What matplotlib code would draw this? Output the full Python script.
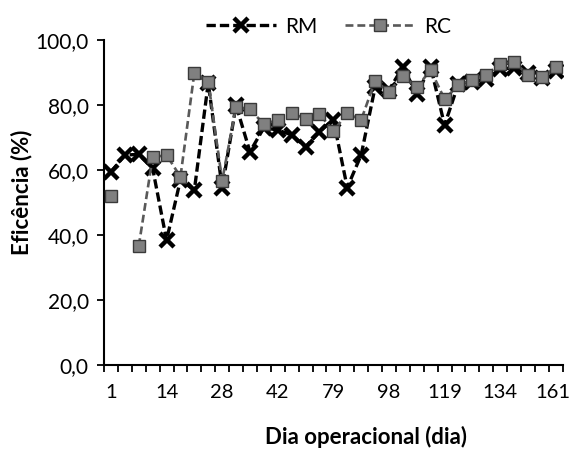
import numpy as np
import matplotlib
matplotlib.use("Agg")
import matplotlib.pyplot as plt
from matplotlib.ticker import FixedLocator, FuncFormatter
from matplotlib.transforms import ScaledTranslation

# operational days (category axis, only every 4th label is shown)
dias = [1, 4, 7, 10, 14, 17, 21, 24, 28, 31, 35, 38, 42, 49, 56, 70, 79,
        84, 91, 94, 98, 105, 109, 112, 119, 123, 126, 130, 134, 140, 147, 154, 161]

# efficiency (%)
rm = [59.4, 64.6, 64.8, 60.5, 38.4, 57.0, 53.8, 86.8, 54.5, 79.9, 65.6,
      73.0, 72.3, 70.8, 67.1, 71.8, 75.5, 54.6, 64.6, 85.4, 84.6, 91.7,
      83.4, 91.8, 73.8, 86.6, 87.0, 88.0, 91.0, 91.5, 89.8, 88.4, 90.5]
rc = [52.0, np.nan, 36.6, 63.9, 64.6, 57.9, 89.9, 87.2, 56.7, 79.5, 78.7,
      74.1, 75.4, 77.5, 75.8, 77.2, 72.0, 77.4, 75.4, 87.4, 84.1, 89.0,
      85.4, 90.8, 81.8, 86.1, 87.7, 89.2, 92.7, 93.2, 89.3, 88.6, 91.6]

plt.rcParams['font.family'] = ['Lato', 'DejaVu Sans']

W, H = 572, 450
fig = plt.figure(figsize=(W / 100, H / 100), dpi=100)
ax = fig.add_axes([104 / W, 1 - 365 / H, (562.7 - 104) / W, (365 - 40) / H])

x = np.arange(len(dias))

ax.plot(x, rm, color='black', lw=2.4, linestyle=(0, (2.8, 1.2)),
        marker='x', markersize=10.5, markeredgewidth=3.2, label='RM', zorder=3)
ax.plot(x, rc, color='#595959', lw=1.9, linestyle=(0, (3.0, 1.5)),
        marker='s', markersize=8, markerfacecolor='#808080',
        markeredgecolor='#3a3a3a', markeredgewidth=1.0, label='RC', zorder=4)

# axes look like excel: left + bottom only
for s in ['top', 'right']:
    ax.spines[s].set_visible(False)
for s in ['left', 'bottom']:
    ax.spines[s].set_linewidth(1.5)

ax.set_xlim(-0.5, len(dias) - 0.5)
ax.set_ylim(0, 100)

ax.set_yticks(np.arange(0, 101, 20))
ax.yaxis.set_major_formatter(FuncFormatter(lambda v, p: f"{v:.1f}".replace('.', ',')))
ax.tick_params(axis='y', direction='out', length=5, width=1.3, labelsize=15, pad=6)

ax.set_xticks(x[::4])
ax.set_xticklabels([str(d) for d in dias[::4]])
ax.xaxis.set_minor_locator(FixedLocator(np.arange(-0.5, len(dias), 1)))
ax.tick_params(axis='x', which='major', length=0, labelsize=14.5, pad=14)
ax.tick_params(axis='x', which='minor', direction='out', length=5, width=1.3)

# keep the last label ("161") inside the figure
last = ax.get_xticklabels()[-1]
last.set_transform(last.get_transform() + ScaledTranslation(-3 / 100, 0, fig.dpi_scale_trans))

fig.text(21.7 / W, 1 - 192 / H, 'Eficência (%)', rotation=90, ha='center',
         va='center', fontsize=16, fontweight='bold')
fig.text(366 / W, 1 - 437 / H, 'Dia operacional (dia)', ha='center',
         va='center', fontsize=16, fontweight='bold')

fig.legend(loc='center', bbox_to_anchor=(328.5 / W, 1 - 26.7 / H), ncol=2,
           frameon=False, fontsize=15, handlelength=3.37, handletextpad=0.4,
           columnspacing=1.35, numpoints=1)

fig.savefig('out.png', dpi=100)
